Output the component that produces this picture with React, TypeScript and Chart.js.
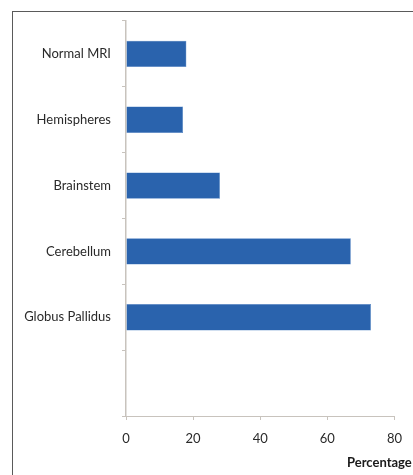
import React, { useEffect, useRef } from "react";
import { Chart, registerables } from "chart.js";

Chart.register(...registerables);

const categories = ["Normal MRI", "Hemispheres", "Brainstem", "Cerebellum", "Globus Pallidus", ""];
const percentages = [18, 17, 28, 67, 73, null];
const xTicks = [0, 20, 40, 60, 80];
const xTitle = "Percentage";

const FONT = "Lato, 'Open Sans', sans-serif";

const framePlugin = {
  id: "frame",
  beforeDraw(chart: any) {
    const ctx = chart.ctx;
    ctx.save();
    ctx.fillStyle = "#ffffff";
    ctx.fillRect(0, 0, chart.width, chart.height);
    ctx.strokeStyle = "#5a5a5a";
    ctx.lineWidth = 1;
    ctx.strokeRect(12.5, 11.5, 600, 600);
    ctx.restore();
  },
  afterDraw(chart: any) {
    const ctx = chart.ctx;
    ctx.save();
    ctx.fillStyle = "#1a1a1a";
    ctx.font = `bold 13px ${FONT}`;
    ctx.textAlign = "left";
    ctx.textBaseline = "middle";
    ctx.fillText(xTitle, 347, 463);
    ctx.restore();
  },
};

export default function App() {
  const ref = useRef<HTMLCanvasElement>(null);
  useEffect(() => {
    if (!ref.current) return;
    const chart = new Chart(ref.current, {
      type: "bar",
      data: {
        labels: categories,
        datasets: [
          {
            data: percentages as any,
            backgroundColor: "#2a63ad",
            borderColor: "#4a80c4",
            borderWidth: 0.5,
            barPercentage: 0.4,
            categoryPercentage: 1,
          },
        ],
      },
      options: {
        indexAxis: "y",
        responsive: false,
        animation: false,
        layout: { padding: { left: 0, top: 21, right: 16, bottom: 0 } },
        plugins: {
          legend: { display: false },
          tooltip: { enabled: false },
        },
        scales: {
          x: {
            min: 0,
            max: 80,
            afterBuildTicks: (scale: any) => {
              scale.ticks = xTicks.map((v) => ({ value: v }));
            },
            afterFit: (scale: any) => {
              scale.height = 59;
            },
            grid: {
              drawOnChartArea: false,
              drawTicks: true,
              tickLength: 4,
              color: "#c8c3bd",
            },
            border: { color: "#c8c3bd", width: 1 },
            ticks: {
              color: "#2a2a2a",
              font: { family: FONT, size: 13 },
              padding: 11,
            },
          },
          y: {
            afterFit: (scale: any) => {
              scale.width = 126;
            },
            grid: {
              drawOnChartArea: false,
              drawTicks: true,
              tickLength: 4,
              offset: true,
              color: "#c8c3bd",
            },
            border: { color: "#c8c3bd", width: 1.5 },
            ticks: {
              color: "#2a2a2a",
              font: { family: FONT, size: 13 },
              padding: 11,
            },
          },
        },
      },
      plugins: [framePlugin],
    });
    return () => chart.destroy();
  }, []);
  return (
    <div style={{ position: "fixed", left: 0, top: 0, width: 413, height: 475 }}>
      <canvas ref={ref} width={413} height={475} />
    </div>
  );
}
